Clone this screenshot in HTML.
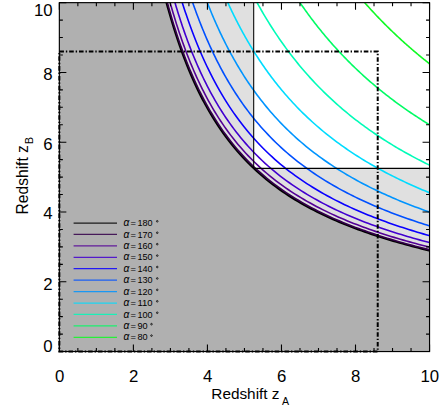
<!DOCTYPE html>
<html><head><meta charset="utf-8"><title>Redshift plot</title>
<style>html,body{margin:0;padding:0;background:#fff;}body{width:443px;height:413px;overflow:hidden;font-family:"Liberation Sans",sans-serif;}</style></head>
<body>
<svg width="443" height="413" viewBox="0 0 443 413" style="display:block">
<defs><clipPath id="cp"><rect x="59.35" y="2.65" width="370.2" height="348.90000000000003"/></clipPath></defs>
<rect x="0" y="0" width="443" height="413" fill="#fff"/>
<rect x="59.35" y="2.65" width="370.2" height="348.90000000000003" fill="#e0e0e0"/>
<path d="M163.71 -7.82 L164.48 -4.83 L165.26 -1.85 L166.06 1.14 L166.86 4.13 L167.68 7.11 L168.52 10.10 L169.36 13.08 L170.23 16.07 L171.11 19.05 L172.00 22.04 L172.91 25.03 L173.83 28.01 L174.78 31.00 L175.74 33.98 L176.72 36.97 L177.71 39.95 L178.73 42.94 L179.76 45.93 L180.82 48.91 L181.90 51.90 L183.00 54.88 L184.12 57.87 L185.27 60.85 L186.44 63.84 L187.63 66.83 L188.85 69.81 L190.10 72.80 L191.38 75.78 L192.68 78.77 L194.02 81.75 L195.38 84.74 L196.78 87.73 L198.21 90.71 L199.68 93.70 L201.18 96.68 L202.72 99.67 L204.30 102.65 L205.93 105.64 L207.59 108.63 L209.30 111.61 L211.06 114.60 L212.86 117.58 L214.72 120.57 L216.63 123.55 L218.59 126.54 L220.61 129.52 L222.70 132.51 L224.84 135.50 L227.06 138.48 L229.34 141.47 L231.70 144.45 L234.14 147.44 L236.66 150.42 L239.26 153.41 L241.96 156.40 L244.75 159.38 L247.64 162.37 L250.64 165.35 L253.75 168.34 L256.91 171.27 L260.08 174.09 L263.25 176.82 L266.42 179.45 L269.59 181.99 L272.75 184.44 L275.92 186.82 L279.09 189.11 L282.26 191.34 L285.43 193.49 L288.59 195.58 L291.76 197.60 L294.93 199.57 L298.10 201.47 L301.27 203.32 L304.43 205.12 L307.60 206.87 L310.77 208.57 L313.94 210.23 L317.11 211.84 L320.27 213.41 L323.44 214.94 L326.61 216.43 L329.78 217.88 L332.95 219.30 L336.11 220.68 L339.28 222.03 L342.45 223.35 L345.62 224.63 L348.78 225.89 L351.95 227.12 L355.12 228.32 L358.29 229.50 L361.46 230.65 L364.62 231.78 L367.79 232.88 L370.96 233.96 L374.13 235.02 L377.30 236.05 L380.46 237.07 L383.63 238.06 L386.80 239.04 L389.97 240.00 L393.14 240.94 L396.30 241.86 L399.47 242.76 L402.64 243.65 L405.81 244.53 L408.98 245.38 L412.14 246.22 L415.31 247.05 L418.48 247.87 L421.65 248.66 L424.82 249.45 L427.98 250.22 L431.15 250.98 L434.32 251.73 L437.49 252.47 L440.66 253.19 L503.59 386.44 L22.33 386.44 L22.33 -67.13 Z" fill="#b0b0b0" clip-path="url(#cp)"/>
<rect x="253.70" y="2.65" width="175.85" height="165.73" fill="#fff"/>
<g clip-path="url(#cp)" fill="none" stroke-linejoin="round">
<path d="M163.71 -7.82 L164.48 -4.83 L165.26 -1.85 L166.06 1.14 L166.86 4.13 L167.68 7.11 L168.52 10.10 L169.36 13.08 L170.23 16.07 L171.11 19.05 L172.00 22.04 L172.91 25.03 L173.83 28.01 L174.78 31.00 L175.74 33.98 L176.72 36.97 L177.71 39.95 L178.73 42.94 L179.76 45.93 L180.82 48.91 L181.90 51.90 L183.00 54.88 L184.12 57.87 L185.27 60.85 L186.44 63.84 L187.63 66.83 L188.85 69.81 L190.10 72.80 L191.38 75.78 L192.68 78.77 L194.02 81.75 L195.38 84.74 L196.78 87.73 L198.21 90.71 L199.68 93.70 L201.18 96.68 L202.72 99.67 L204.30 102.65 L205.93 105.64 L207.59 108.63 L209.30 111.61 L211.06 114.60 L212.86 117.58 L214.72 120.57 L216.63 123.55 L218.59 126.54 L220.61 129.52 L222.70 132.51 L224.84 135.50 L227.06 138.48 L229.34 141.47 L231.70 144.45 L234.14 147.44 L236.66 150.42 L239.26 153.41 L241.96 156.40 L244.75 159.38 L247.64 162.37 L250.64 165.35 L253.75 168.34 L256.91 171.27 L260.08 174.09 L263.25 176.82 L266.42 179.45 L269.59 181.99 L272.75 184.44 L275.92 186.82 L279.09 189.11 L282.26 191.34 L285.43 193.49 L288.59 195.58 L291.76 197.60 L294.93 199.57 L298.10 201.47 L301.27 203.32 L304.43 205.12 L307.60 206.87 L310.77 208.57 L313.94 210.23 L317.11 211.84 L320.27 213.41 L323.44 214.94 L326.61 216.43 L329.78 217.88 L332.95 219.30 L336.11 220.68 L339.28 222.03 L342.45 223.35 L345.62 224.63 L348.78 225.89 L351.95 227.12 L355.12 228.32 L358.29 229.50 L361.46 230.65 L364.62 231.78 L367.79 232.88 L370.96 233.96 L374.13 235.02 L377.30 236.05 L380.46 237.07 L383.63 238.06 L386.80 239.04 L389.97 240.00 L393.14 240.94 L396.30 241.86 L399.47 242.76 L402.64 243.65 L405.81 244.53 L408.98 245.38 L412.14 246.22 L415.31 247.05 L418.48 247.87 L421.65 248.66 L424.82 249.45 L427.98 250.22 L431.15 250.98 L434.32 251.73 L437.49 252.47 L440.66 253.19 " stroke="#000000" stroke-width="2.0"/>
<path d="M164.59 -7.82 L165.36 -4.85 L166.14 -1.87 L166.94 1.10 L167.75 4.07 L168.57 7.04 L169.41 10.01 L170.26 12.98 L171.13 15.95 L172.01 18.93 L172.91 21.90 L173.82 24.87 L174.75 27.84 L175.70 30.81 L176.66 33.78 L177.64 36.75 L178.64 39.72 L179.66 42.70 L180.70 45.67 L181.76 48.64 L182.84 51.61 L183.95 54.58 L185.07 57.55 L186.22 60.52 L187.39 63.50 L188.59 66.47 L189.82 69.44 L191.07 72.41 L192.35 75.38 L193.65 78.35 L194.99 81.32 L196.36 84.30 L197.76 87.27 L199.19 90.24 L200.66 93.21 L202.17 96.18 L203.71 99.15 L205.29 102.12 L206.92 105.10 L208.58 108.07 L210.29 111.04 L212.05 114.01 L213.86 116.98 L215.71 119.95 L217.62 122.92 L219.58 125.89 L221.60 128.87 L223.68 131.84 L225.83 134.81 L228.04 137.78 L230.32 140.75 L232.68 143.72 L235.11 146.69 L237.62 149.67 L240.22 152.64 L242.90 155.61 L245.68 158.58 L248.56 161.55 L251.55 164.52 L254.64 167.49 L257.80 170.41 L260.95 173.22 L264.10 175.94 L267.25 178.56 L270.41 181.09 L273.56 183.54 L276.71 185.90 L279.86 188.20 L283.02 190.41 L286.17 192.56 L289.32 194.65 L292.48 196.67 L295.63 198.63 L298.78 200.54 L301.93 202.39 L305.09 204.19 L308.24 205.93 L311.39 207.64 L314.55 209.29 L317.70 210.90 L320.85 212.47 L324.00 214.00 L327.16 215.49 L330.31 216.95 L333.46 218.37 L336.61 219.75 L339.77 221.10 L342.92 222.42 L346.07 223.71 L349.23 224.97 L352.38 226.21 L355.53 227.41 L358.68 228.59 L361.84 229.74 L364.99 230.87 L368.14 231.98 L371.30 233.06 L374.45 234.12 L377.60 235.16 L380.75 236.18 L383.91 237.18 L387.06 238.16 L390.21 239.12 L393.36 240.06 L396.52 240.99 L399.67 241.90 L402.82 242.79 L405.98 243.66 L409.13 244.53 L412.28 245.37 L415.43 246.20 L418.59 247.02 L421.74 247.82 L424.89 248.61 L428.04 249.39 L431.20 250.15 L434.35 250.90 L437.50 251.64 L440.66 252.37 " stroke="#34004a" stroke-width="1.6"/>
<path d="M167.27 -7.82 L168.05 -4.89 L168.85 -1.96 L169.66 0.97 L170.48 3.89 L171.31 6.82 L172.16 9.75 L173.02 12.68 L173.90 15.60 L174.79 18.53 L175.70 21.46 L176.62 24.39 L177.56 27.32 L178.52 30.24 L179.50 33.17 L180.49 36.10 L181.50 39.03 L182.53 41.95 L183.58 44.88 L184.65 47.81 L185.74 50.74 L186.85 53.66 L187.99 56.59 L189.15 59.52 L190.33 62.45 L191.54 65.38 L192.77 68.30 L194.03 71.23 L195.32 74.16 L196.63 77.09 L197.98 80.01 L199.35 82.94 L200.76 85.87 L202.20 88.80 L203.68 91.73 L205.19 94.65 L206.74 97.58 L208.32 100.51 L209.95 103.44 L211.62 106.36 L213.33 109.29 L215.09 112.22 L216.89 115.15 L218.75 118.07 L220.65 121.00 L222.61 123.93 L224.63 126.86 L226.70 129.79 L228.84 132.71 L231.04 135.64 L233.31 138.57 L235.65 141.50 L238.06 144.42 L240.55 147.35 L243.12 150.28 L245.78 153.21 L248.53 156.13 L251.38 159.06 L254.32 161.99 L257.38 164.92 L260.48 167.79 L263.59 170.57 L266.69 173.25 L269.80 175.84 L272.91 178.35 L276.01 180.77 L279.12 183.12 L282.23 185.40 L285.33 187.60 L288.44 189.74 L291.55 191.81 L294.65 193.83 L297.76 195.78 L300.87 197.68 L303.97 199.53 L307.08 201.32 L310.19 203.07 L313.29 204.77 L316.40 206.43 L319.50 208.04 L322.61 209.61 L325.72 211.15 L328.82 212.64 L331.93 214.10 L335.04 215.53 L338.14 216.92 L341.25 218.27 L344.36 219.60 L347.46 220.90 L350.57 222.17 L353.68 223.41 L356.78 224.62 L359.89 225.81 L362.99 226.97 L366.10 228.11 L369.21 229.22 L372.31 230.31 L375.42 231.38 L378.53 232.43 L381.63 233.46 L384.74 234.47 L387.85 235.46 L390.95 236.43 L394.06 237.38 L397.17 238.32 L400.27 239.24 L403.38 240.14 L406.49 241.02 L409.59 241.89 L412.70 242.75 L415.80 243.59 L418.91 244.42 L422.02 245.23 L425.12 246.03 L428.23 246.82 L431.34 247.59 L434.44 248.35 L437.55 249.10 L440.66 249.84 " stroke="#540096" stroke-width="1.6"/>
<path d="M171.97 -7.82 L172.77 -4.96 L173.58 -2.11 L174.41 0.74 L175.25 3.59 L176.10 6.45 L176.97 9.30 L177.85 12.15 L178.74 15.00 L179.65 17.86 L180.58 20.71 L181.52 23.56 L182.48 26.41 L183.45 29.27 L184.44 32.12 L185.45 34.97 L186.48 37.82 L187.53 40.68 L188.59 43.53 L189.68 46.38 L190.79 49.24 L191.92 52.09 L193.07 54.94 L194.24 57.79 L195.44 60.65 L196.66 63.50 L197.91 66.35 L199.18 69.20 L200.48 72.06 L201.81 74.91 L203.17 77.76 L204.56 80.61 L205.97 83.47 L207.42 86.32 L208.91 89.17 L210.43 92.02 L211.98 94.88 L213.57 97.73 L215.20 100.58 L216.88 103.43 L218.59 106.29 L220.35 109.14 L222.15 111.99 L224.00 114.85 L225.90 117.70 L227.85 120.55 L229.85 123.40 L231.91 126.26 L234.03 129.11 L236.21 131.96 L238.45 134.81 L240.77 137.67 L243.15 140.52 L245.60 143.37 L248.13 146.22 L250.74 149.08 L253.44 151.93 L256.22 154.78 L259.10 157.63 L262.08 160.49 L265.10 163.29 L268.13 166.00 L271.16 168.63 L274.18 171.17 L277.21 173.63 L280.24 176.02 L283.26 178.33 L286.29 180.57 L289.32 182.75 L292.35 184.86 L295.37 186.92 L298.40 188.92 L301.43 190.86 L304.45 192.75 L307.48 194.59 L310.51 196.38 L313.53 198.12 L316.56 199.82 L319.59 201.47 L322.61 203.09 L325.64 204.66 L328.67 206.20 L331.69 207.70 L334.72 209.17 L337.75 210.60 L340.77 212.00 L343.80 213.36 L346.83 214.70 L349.85 216.01 L352.88 217.29 L355.91 218.54 L358.93 219.76 L361.96 220.96 L364.99 222.14 L368.01 223.29 L371.04 224.42 L374.07 225.53 L377.09 226.61 L380.12 227.67 L383.15 228.72 L386.17 229.74 L389.20 230.75 L392.23 231.73 L395.25 232.70 L398.28 233.66 L401.31 234.59 L404.33 235.51 L407.36 236.41 L410.39 237.30 L413.42 238.17 L416.44 239.03 L419.47 239.87 L422.50 240.70 L425.52 241.52 L428.55 242.32 L431.58 243.11 L434.60 243.89 L437.63 244.65 L440.66 245.41 " stroke="#4200d0" stroke-width="1.6"/>
<path d="M179.06 -7.82 L179.89 -5.07 L180.73 -2.33 L181.58 0.41 L182.44 3.15 L183.32 5.89 L184.21 8.64 L185.11 11.38 L186.03 14.12 L186.96 16.86 L187.91 19.61 L188.88 22.35 L189.86 25.09 L190.86 27.83 L191.87 30.57 L192.91 33.32 L193.96 36.06 L195.03 38.80 L196.12 41.54 L197.22 44.29 L198.35 47.03 L199.50 49.77 L200.67 52.51 L201.87 55.25 L203.08 58.00 L204.32 60.74 L205.59 63.48 L206.88 66.22 L208.20 68.97 L209.54 71.71 L210.91 74.45 L212.31 77.19 L213.74 79.94 L215.20 82.68 L216.69 85.42 L218.22 88.16 L219.78 90.90 L221.38 93.65 L223.01 96.39 L224.68 99.13 L226.39 101.87 L228.14 104.62 L229.93 107.36 L231.77 110.10 L233.66 112.84 L235.59 115.58 L237.57 118.33 L239.61 121.07 L241.70 123.81 L243.84 126.55 L246.04 129.30 L248.31 132.04 L250.64 134.78 L253.03 137.52 L255.50 140.26 L258.04 143.01 L260.65 145.75 L263.34 148.49 L266.12 151.23 L268.99 153.98 L271.90 156.68 L274.81 159.29 L277.71 161.83 L280.62 164.30 L283.53 166.69 L286.44 169.01 L289.35 171.27 L292.26 173.46 L295.17 175.60 L298.08 177.67 L300.99 179.70 L303.90 181.66 L306.81 183.58 L309.72 185.45 L312.63 187.27 L315.54 189.05 L318.45 190.78 L321.36 192.47 L324.27 194.12 L327.18 195.73 L330.09 197.31 L333.00 198.85 L335.91 200.35 L338.82 201.82 L341.73 203.26 L344.64 204.67 L347.55 206.04 L350.46 207.39 L353.37 208.71 L356.28 210.00 L359.19 211.27 L362.10 212.51 L365.00 213.72 L367.91 214.92 L370.82 216.09 L373.73 217.23 L376.64 218.36 L379.55 219.46 L382.46 220.55 L385.37 221.61 L388.28 222.65 L391.19 223.68 L394.10 224.69 L397.01 225.68 L399.92 226.65 L402.83 227.61 L405.74 228.55 L408.65 229.47 L411.56 230.38 L414.47 231.28 L417.38 232.16 L420.29 233.02 L423.20 233.88 L426.11 234.72 L429.02 235.54 L431.93 236.36 L434.84 237.16 L437.75 237.95 L440.66 238.72 " stroke="#0a00ff" stroke-width="1.6"/>
<path d="M189.18 -7.82 L190.03 -5.23 L190.90 -2.64 L191.78 -0.04 L192.68 2.55 L193.58 5.14 L194.50 7.73 L195.44 10.32 L196.39 12.91 L197.35 15.50 L198.33 18.09 L199.32 20.68 L200.33 23.27 L201.36 25.86 L202.40 28.45 L203.46 31.04 L204.54 33.63 L205.63 36.23 L206.74 38.82 L207.88 41.41 L209.03 44.00 L210.20 46.59 L211.40 49.18 L212.61 51.77 L213.85 54.36 L215.11 56.95 L216.39 59.54 L217.69 62.13 L219.03 64.72 L220.38 67.31 L221.76 69.91 L223.17 72.50 L224.61 75.09 L226.08 77.68 L227.58 80.27 L229.10 82.86 L230.66 85.45 L232.25 88.04 L233.88 90.63 L235.54 93.22 L237.24 95.81 L238.97 98.40 L240.74 100.99 L242.56 103.59 L244.41 106.18 L246.31 108.77 L248.26 111.36 L250.24 113.95 L252.28 116.54 L254.37 119.13 L256.51 121.72 L258.70 124.31 L260.95 126.90 L263.26 129.49 L265.63 132.08 L268.06 134.67 L270.56 137.26 L273.12 139.86 L275.76 142.45 L278.47 145.04 L281.22 147.59 L283.97 150.08 L286.72 152.49 L289.47 154.85 L292.21 157.14 L294.96 159.37 L297.71 161.55 L300.46 163.67 L303.21 165.73 L305.96 167.75 L308.71 169.72 L311.46 171.64 L314.21 173.51 L316.96 175.35 L319.70 177.13 L322.45 178.88 L325.20 180.59 L327.95 182.26 L330.70 183.90 L333.45 185.50 L336.20 187.06 L338.95 188.59 L341.70 190.09 L344.44 191.56 L347.19 193.00 L349.94 194.41 L352.69 195.80 L355.44 197.15 L358.19 198.48 L360.94 199.78 L363.69 201.06 L366.44 202.32 L369.18 203.55 L371.93 204.76 L374.68 205.94 L377.43 207.11 L380.18 208.25 L382.93 209.38 L385.68 210.48 L388.43 211.57 L391.18 212.64 L393.92 213.69 L396.67 214.72 L399.42 215.73 L402.17 216.73 L404.92 217.71 L407.67 218.68 L410.42 219.63 L413.17 220.57 L415.92 221.49 L418.66 222.40 L421.41 223.29 L424.16 224.17 L426.91 225.04 L429.66 225.90 L432.41 226.74 L435.16 227.57 L437.91 228.39 L440.66 229.19 " stroke="#0050ff" stroke-width="1.6"/>
<path d="M203.33 -7.82 L204.22 -5.43 L205.12 -3.04 L206.04 -0.65 L206.96 1.74 L207.90 4.13 L208.86 6.52 L209.82 8.91 L210.80 11.30 L211.80 13.69 L212.80 16.08 L213.83 18.47 L214.87 20.85 L215.92 23.24 L216.99 25.63 L218.07 28.02 L219.17 30.41 L220.29 32.80 L221.43 35.19 L222.58 37.58 L223.76 39.97 L224.95 42.36 L226.16 44.75 L227.39 47.14 L228.64 49.53 L229.91 51.92 L231.20 54.31 L232.51 56.69 L233.85 59.08 L235.21 61.47 L236.59 63.86 L238.00 66.25 L239.44 68.64 L240.89 71.03 L242.38 73.42 L243.89 75.81 L245.43 78.20 L247.01 80.59 L248.61 82.98 L250.24 85.37 L251.90 87.76 L253.59 90.15 L255.32 92.53 L257.09 94.92 L258.89 97.31 L260.72 99.70 L262.60 102.09 L264.51 104.48 L266.47 106.87 L268.46 109.26 L270.50 111.65 L272.59 114.04 L274.72 116.43 L276.90 118.82 L279.13 121.21 L281.41 123.60 L283.74 125.98 L286.13 128.37 L288.58 130.76 L291.08 133.15 L293.62 135.51 L296.15 137.82 L298.69 140.07 L301.22 142.27 L303.76 144.42 L306.29 146.52 L308.83 148.57 L311.36 150.58 L313.90 152.55 L316.43 154.47 L318.97 156.35 L321.50 158.19 L324.04 160.00 L326.57 161.76 L329.11 163.49 L331.64 165.19 L334.18 166.85 L336.71 168.48 L339.25 170.08 L341.78 171.65 L344.32 173.18 L346.85 174.69 L349.39 176.17 L351.92 177.62 L354.46 179.05 L356.99 180.45 L359.53 181.83 L362.07 183.18 L364.60 184.50 L367.14 185.81 L369.67 187.09 L372.21 188.35 L374.74 189.59 L377.28 190.81 L379.81 192.00 L382.35 193.18 L384.88 194.34 L387.42 195.48 L389.95 196.60 L392.49 197.71 L395.02 198.80 L397.56 199.87 L400.09 200.92 L402.63 201.96 L405.16 202.98 L407.70 203.99 L410.23 204.98 L412.77 205.96 L415.30 206.92 L417.84 207.87 L420.37 208.81 L422.91 209.73 L425.44 210.65 L427.98 211.54 L430.52 212.43 L433.05 213.30 L435.59 214.16 L438.12 215.01 L440.66 215.85 " stroke="#0094ff" stroke-width="1.6"/>
<path d="M223.19 -7.82 L224.11 -5.69 L225.04 -3.57 L225.98 -1.44 L226.93 0.68 L227.90 2.81 L228.88 4.93 L229.87 7.06 L230.87 9.18 L231.89 11.31 L232.92 13.43 L233.96 15.56 L235.02 17.69 L236.09 19.81 L237.17 21.94 L238.27 24.06 L239.38 26.19 L240.51 28.31 L241.65 30.44 L242.81 32.56 L243.99 34.69 L245.18 36.81 L246.39 38.94 L247.61 41.06 L248.86 43.19 L250.12 45.31 L251.40 47.44 L252.70 49.56 L254.02 51.69 L255.35 53.81 L256.71 55.94 L258.09 58.06 L259.49 60.19 L260.91 62.31 L262.36 64.44 L263.82 66.56 L265.31 68.69 L266.82 70.81 L268.36 72.94 L269.93 75.06 L271.51 77.19 L273.13 79.32 L274.77 81.44 L276.44 83.57 L278.14 85.69 L279.87 87.82 L281.62 89.94 L283.41 92.07 L285.23 94.19 L287.09 96.32 L288.97 98.44 L290.89 100.57 L292.85 102.69 L294.84 104.82 L296.87 106.94 L298.94 109.07 L301.05 111.19 L303.19 113.32 L305.38 115.44 L307.62 117.57 L309.87 119.67 L312.13 121.74 L314.38 123.76 L316.64 125.75 L318.89 127.70 L321.15 129.61 L323.40 131.49 L325.66 133.33 L327.91 135.14 L330.17 136.92 L332.42 138.66 L334.67 140.38 L336.93 142.06 L339.18 143.72 L341.44 145.35 L343.69 146.95 L345.95 148.52 L348.20 150.07 L350.46 151.59 L352.71 153.09 L354.97 154.56 L357.22 156.01 L359.48 157.44 L361.73 158.84 L363.99 160.22 L366.24 161.59 L368.50 162.93 L370.75 164.24 L373.01 165.54 L375.26 166.82 L377.52 168.08 L379.77 169.33 L382.03 170.55 L384.28 171.76 L386.54 172.95 L388.79 174.12 L391.05 175.27 L393.30 176.41 L395.56 177.54 L397.81 178.64 L400.07 179.74 L402.32 180.81 L404.58 181.88 L406.83 182.93 L409.09 183.96 L411.34 184.98 L413.60 185.99 L415.85 186.99 L418.11 187.97 L420.36 188.94 L422.62 189.90 L424.87 190.84 L427.13 191.77 L429.38 192.70 L431.64 193.61 L433.89 194.51 L436.15 195.40 L438.40 196.27 L440.66 197.14 " stroke="#00dcff" stroke-width="1.6"/>
<path d="M251.51 -7.82 L252.43 -6.04 L253.37 -4.26 L254.31 -2.48 L255.27 -0.70 L256.24 1.08 L257.21 2.86 L258.20 4.64 L259.19 6.42 L260.20 8.20 L261.22 9.98 L262.25 11.76 L263.29 13.54 L264.34 15.32 L265.40 17.10 L266.47 18.88 L267.56 20.66 L268.66 22.44 L269.77 24.22 L270.89 26.00 L272.02 27.78 L273.17 29.55 L274.33 31.33 L275.51 33.11 L276.69 34.89 L277.90 36.67 L279.11 38.45 L280.34 40.23 L281.59 42.01 L282.85 43.79 L284.12 45.57 L285.41 47.35 L286.72 49.13 L288.04 50.91 L289.38 52.69 L290.74 54.47 L292.11 56.25 L293.50 58.03 L294.91 59.81 L296.33 61.59 L297.78 63.37 L299.24 65.15 L300.72 66.93 L302.22 68.71 L303.74 70.49 L305.29 72.27 L306.85 74.05 L308.43 75.82 L310.04 77.60 L311.66 79.38 L313.31 81.16 L314.98 82.94 L316.68 84.72 L318.40 86.50 L320.14 88.28 L321.91 90.06 L323.71 91.84 L325.53 93.62 L327.37 95.40 L329.25 97.18 L331.14 98.95 L333.03 100.69 L334.91 102.40 L336.80 104.09 L338.69 105.76 L340.58 107.41 L342.47 109.03 L344.35 110.62 L346.24 112.20 L348.13 113.75 L350.02 115.29 L351.91 116.80 L353.80 118.29 L355.68 119.76 L357.57 121.22 L359.46 122.65 L361.35 124.07 L363.24 125.46 L365.13 126.84 L367.01 128.20 L368.90 129.55 L370.79 130.87 L372.68 132.18 L374.57 133.48 L376.46 134.75 L378.34 136.02 L380.23 137.26 L382.12 138.49 L384.01 139.71 L385.90 140.91 L387.78 142.10 L389.67 143.27 L391.56 144.43 L393.45 145.58 L395.34 146.71 L397.23 147.83 L399.11 148.94 L401.00 150.03 L402.89 151.11 L404.78 152.18 L406.67 153.24 L408.56 154.29 L410.44 155.32 L412.33 156.34 L414.22 157.36 L416.11 158.36 L418.00 159.35 L419.89 160.33 L421.77 161.30 L423.66 162.26 L425.55 163.20 L427.44 164.14 L429.33 165.07 L431.21 165.99 L433.10 166.90 L434.99 167.80 L436.88 168.69 L438.77 169.58 L440.66 170.45 " stroke="#00fcb8" stroke-width="1.6"/>
<path d="M292.99 -7.82 L293.85 -6.49 L294.72 -5.17 L295.59 -3.84 L296.47 -2.52 L297.36 -1.19 L298.25 0.13 L299.15 1.46 L300.06 2.78 L300.97 4.11 L301.89 5.43 L302.82 6.76 L303.75 8.08 L304.69 9.41 L305.64 10.73 L306.60 12.06 L307.56 13.38 L308.53 14.71 L309.51 16.03 L310.50 17.36 L311.49 18.68 L312.50 20.01 L313.51 21.33 L314.53 22.66 L315.56 23.98 L316.59 25.31 L317.64 26.63 L318.69 27.96 L319.75 29.28 L320.82 30.61 L321.90 31.93 L322.99 33.26 L324.09 34.58 L325.20 35.91 L326.32 37.23 L327.44 38.56 L328.58 39.88 L329.73 41.21 L330.88 42.53 L332.05 43.86 L333.22 45.18 L334.41 46.51 L335.61 47.83 L336.82 49.16 L338.03 50.48 L339.26 51.81 L340.50 53.13 L341.76 54.46 L343.02 55.78 L344.29 57.11 L345.58 58.43 L346.88 59.76 L348.19 61.08 L349.51 62.41 L350.85 63.73 L352.19 65.06 L353.55 66.38 L354.93 67.71 L356.31 69.03 L357.71 70.36 L359.12 71.67 L360.52 72.98 L361.93 74.27 L363.33 75.56 L364.74 76.83 L366.15 78.08 L367.55 79.33 L368.96 80.56 L370.36 81.79 L371.77 83.00 L373.18 84.20 L374.58 85.39 L375.99 86.57 L377.39 87.74 L378.80 88.90 L380.20 90.05 L381.61 91.19 L383.02 92.32 L384.42 93.43 L385.83 94.54 L387.23 95.64 L388.64 96.73 L390.05 97.81 L391.45 98.88 L392.86 99.94 L394.26 101.00 L395.67 102.04 L397.07 103.08 L398.48 104.10 L399.89 105.12 L401.29 106.13 L402.70 107.13 L404.10 108.12 L405.51 109.11 L406.92 110.08 L408.32 111.05 L409.73 112.01 L411.13 112.97 L412.54 113.91 L413.94 114.85 L415.35 115.78 L416.76 116.70 L418.16 117.62 L419.57 118.53 L420.97 119.43 L422.38 120.32 L423.79 121.21 L425.19 122.09 L426.60 122.97 L428.00 123.83 L429.41 124.69 L430.82 125.55 L432.22 126.40 L433.63 127.24 L435.03 128.07 L436.44 128.90 L437.84 129.72 L439.25 130.54 L440.66 131.35 " stroke="#00fc64" stroke-width="1.6"/>
<path d="M355.72 -7.82 L356.32 -7.10 L356.92 -6.38 L357.53 -5.66 L358.14 -4.94 L358.74 -4.22 L359.36 -3.50 L359.97 -2.78 L360.59 -2.06 L361.21 -1.34 L361.83 -0.62 L362.45 0.10 L363.08 0.82 L363.71 1.54 L364.34 2.26 L364.97 2.98 L365.61 3.70 L366.25 4.42 L366.89 5.13 L367.53 5.85 L368.18 6.57 L368.83 7.29 L369.48 8.01 L370.14 8.73 L370.79 9.45 L371.45 10.17 L372.12 10.89 L372.78 11.61 L373.45 12.33 L374.12 13.05 L374.79 13.77 L375.47 14.49 L376.15 15.21 L376.83 15.93 L377.52 16.65 L378.20 17.37 L378.89 18.09 L379.59 18.81 L380.28 19.53 L380.98 20.25 L381.68 20.96 L382.39 21.68 L383.10 22.40 L383.81 23.12 L384.52 23.84 L385.24 24.56 L385.96 25.28 L386.68 26.00 L387.41 26.72 L388.14 27.44 L388.87 28.16 L389.61 28.88 L390.35 29.60 L391.09 30.32 L391.84 31.04 L392.58 31.76 L393.34 32.48 L394.09 33.20 L394.85 33.92 L395.61 34.64 L396.37 35.35 L397.14 36.07 L397.90 36.78 L398.66 37.49 L399.43 38.19 L400.19 38.90 L400.96 39.60 L401.72 40.29 L402.48 40.99 L403.25 41.68 L404.01 42.36 L404.77 43.05 L405.54 43.73 L406.30 44.41 L407.06 45.09 L407.83 45.76 L408.59 46.43 L409.35 47.10 L410.12 47.76 L410.88 48.42 L411.64 49.08 L412.41 49.74 L413.17 50.39 L413.93 51.04 L414.70 51.69 L415.46 52.34 L416.22 52.98 L416.99 53.62 L417.75 54.26 L418.52 54.89 L419.28 55.52 L420.04 56.15 L420.81 56.78 L421.57 57.40 L422.33 58.03 L423.10 58.65 L423.86 59.26 L424.62 59.88 L425.39 60.49 L426.15 61.10 L426.91 61.71 L427.68 62.31 L428.44 62.91 L429.20 63.51 L429.97 64.11 L430.73 64.71 L431.49 65.30 L432.26 65.89 L433.02 66.48 L433.78 67.06 L434.55 67.65 L435.31 68.23 L436.08 68.81 L436.84 69.38 L437.60 69.96 L438.37 70.53 L439.13 71.10 L439.89 71.67 L440.66 72.23 " stroke="#10fa24" stroke-width="1.6"/>
</g>
<path d="M253.70 2.65 V168.38 H429.55" fill="none" stroke="#000" stroke-width="1.05"/>
<path d="M59.35 51.50 H377.72 V351.55 H59.35 Z" fill="none" stroke="#000" stroke-width="2.0" stroke-dasharray="4.6 1.9 1.4 1.92"/>
<rect x="59.35" y="2.65" width="370.2" height="348.90000000000003" fill="none" stroke="#000" stroke-width="1.15"/>
<path d="M59.35 351.55 v-7 M59.35 2.65 v7 M59.35 351.55 h7 M429.55 351.55 h-7 M77.86 351.55 v-3.5 M77.86 2.65 v3.5 M59.35 334.11 h3.5 M429.55 334.11 h-3.5 M96.37 351.55 v-3.5 M96.37 2.65 v3.5 M59.35 316.66 h3.5 M429.55 316.66 h-3.5 M114.88 351.55 v-3.5 M114.88 2.65 v3.5 M59.35 299.22 h3.5 M429.55 299.22 h-3.5 M133.39 351.55 v-7 M133.39 2.65 v7 M59.35 281.77 h7 M429.55 281.77 h-7 M151.90 351.55 v-3.5 M151.90 2.65 v3.5 M59.35 264.33 h3.5 M429.55 264.33 h-3.5 M170.41 351.55 v-3.5 M170.41 2.65 v3.5 M59.35 246.88 h3.5 M429.55 246.88 h-3.5 M188.92 351.55 v-3.5 M188.92 2.65 v3.5 M59.35 229.44 h3.5 M429.55 229.44 h-3.5 M207.43 351.55 v-7 M207.43 2.65 v7 M59.35 211.99 h7 M429.55 211.99 h-7 M225.94 351.55 v-3.5 M225.94 2.65 v3.5 M59.35 194.55 h3.5 M429.55 194.55 h-3.5 M244.45 351.55 v-3.5 M244.45 2.65 v3.5 M59.35 177.10 h3.5 M429.55 177.10 h-3.5 M262.96 351.55 v-3.5 M262.96 2.65 v3.5 M59.35 159.66 h3.5 M429.55 159.66 h-3.5 M281.47 351.55 v-7 M281.47 2.65 v7 M59.35 142.21 h7 M429.55 142.21 h-7 M299.98 351.55 v-3.5 M299.98 2.65 v3.5 M59.35 124.77 h3.5 M429.55 124.77 h-3.5 M318.49 351.55 v-3.5 M318.49 2.65 v3.5 M59.35 107.32 h3.5 M429.55 107.32 h-3.5 M337.00 351.55 v-3.5 M337.00 2.65 v3.5 M59.35 89.88 h3.5 M429.55 89.88 h-3.5 M355.51 351.55 v-7 M355.51 2.65 v7 M59.35 72.43 h7 M429.55 72.43 h-7 M374.02 351.55 v-3.5 M374.02 2.65 v3.5 M59.35 54.99 h3.5 M429.55 54.99 h-3.5 M392.53 351.55 v-3.5 M392.53 2.65 v3.5 M59.35 37.54 h3.5 M429.55 37.54 h-3.5 M411.04 351.55 v-3.5 M411.04 2.65 v3.5 M59.35 20.10 h3.5 M429.55 20.10 h-3.5 M429.55 351.55 v-7 M429.55 2.65 v7 M59.35 2.65 h7 M429.55 2.65 h-7" stroke="#000" stroke-width="1.1" fill="none"/>
<g font-family="Liberation Sans, sans-serif" font-size="16.8" fill="#000">
<text x="59.55" y="382.0" text-anchor="middle">0</text>
<text x="52.6" y="351.70" text-anchor="end">0</text>
<text x="133.59" y="382.0" text-anchor="middle">2</text>
<text x="52.6" y="289.50" text-anchor="end">2</text>
<text x="207.63" y="382.0" text-anchor="middle">4</text>
<text x="52.6" y="219.40" text-anchor="end">4</text>
<text x="281.67" y="382.0" text-anchor="middle">6</text>
<text x="52.6" y="149.70" text-anchor="end">6</text>
<text x="355.71" y="382.0" text-anchor="middle">8</text>
<text x="52.6" y="79.90" text-anchor="end">8</text>
<text x="429.75" y="382.0" text-anchor="middle">10</text>
<text x="52.6" y="16.10" text-anchor="end">10</text>
</g>
<g font-family="Liberation Sans, sans-serif" font-size="15" fill="#000">
<text x="211.3" y="399.3" font-size="15.35">Redshift z<tspan font-size="10.6" dy="5.2" dx="2.5">A</tspan></text>
<text transform="translate(27.6,214.4) rotate(-90) scale(1,1.08)" font-size="15.6">Redshift z<tspan font-size="10.4" dy="4.8" dx="1.2">B</tspan></text>
</g>
<g font-family="Liberation Sans, sans-serif" font-size="9.4" fill="#000">
<path d="M73.6 223.00 H117" stroke="#000000" stroke-width="1.25" stroke-opacity="0.85"/>
<text y="226.10"><tspan x="123.6" font-style="italic" font-size="10.2">α</tspan><tspan x="130.4">=</tspan><tspan x="137.5" textLength="15.15" lengthAdjust="spacingAndGlyphs">180</tspan></text>
<circle cx="157.25" cy="221.30" r="0.8" fill="none" stroke="#000" stroke-width="0.8"/>
<path d="M73.6 234.43 H117" stroke="#34004a" stroke-width="1.25" stroke-opacity="0.85"/>
<text y="237.53"><tspan x="123.6" font-style="italic" font-size="10.2">α</tspan><tspan x="130.4">=</tspan><tspan x="137.5" textLength="15.15" lengthAdjust="spacingAndGlyphs">170</tspan></text>
<circle cx="157.25" cy="232.73" r="0.8" fill="none" stroke="#000" stroke-width="0.8"/>
<path d="M73.6 245.86 H117" stroke="#540096" stroke-width="1.25" stroke-opacity="0.85"/>
<text y="248.96"><tspan x="123.6" font-style="italic" font-size="10.2">α</tspan><tspan x="130.4">=</tspan><tspan x="137.5" textLength="15.15" lengthAdjust="spacingAndGlyphs">160</tspan></text>
<circle cx="157.25" cy="244.16" r="0.8" fill="none" stroke="#000" stroke-width="0.8"/>
<path d="M73.6 257.29 H117" stroke="#4200d0" stroke-width="1.25" stroke-opacity="0.85"/>
<text y="260.39"><tspan x="123.6" font-style="italic" font-size="10.2">α</tspan><tspan x="130.4">=</tspan><tspan x="137.5" textLength="15.15" lengthAdjust="spacingAndGlyphs">150</tspan></text>
<circle cx="157.25" cy="255.59" r="0.8" fill="none" stroke="#000" stroke-width="0.8"/>
<path d="M73.6 268.72 H117" stroke="#0a00ff" stroke-width="1.25" stroke-opacity="0.85"/>
<text y="271.82"><tspan x="123.6" font-style="italic" font-size="10.2">α</tspan><tspan x="130.4">=</tspan><tspan x="137.5" textLength="15.15" lengthAdjust="spacingAndGlyphs">140</tspan></text>
<circle cx="157.25" cy="267.02" r="0.8" fill="none" stroke="#000" stroke-width="0.8"/>
<path d="M73.6 280.15 H117" stroke="#0050ff" stroke-width="1.25" stroke-opacity="0.85"/>
<text y="283.25"><tspan x="123.6" font-style="italic" font-size="10.2">α</tspan><tspan x="130.4">=</tspan><tspan x="137.5" textLength="15.15" lengthAdjust="spacingAndGlyphs">130</tspan></text>
<circle cx="157.25" cy="278.45" r="0.8" fill="none" stroke="#000" stroke-width="0.8"/>
<path d="M73.6 291.58 H117" stroke="#0094ff" stroke-width="1.25" stroke-opacity="0.85"/>
<text y="294.68"><tspan x="123.6" font-style="italic" font-size="10.2">α</tspan><tspan x="130.4">=</tspan><tspan x="137.5" textLength="15.15" lengthAdjust="spacingAndGlyphs">120</tspan></text>
<circle cx="157.25" cy="289.88" r="0.8" fill="none" stroke="#000" stroke-width="0.8"/>
<path d="M73.6 303.01 H117" stroke="#00dcff" stroke-width="1.25" stroke-opacity="0.85"/>
<text y="306.11"><tspan x="123.6" font-style="italic" font-size="10.2">α</tspan><tspan x="130.4">=</tspan><tspan x="137.5" textLength="15.15" lengthAdjust="spacingAndGlyphs">110</tspan></text>
<circle cx="157.25" cy="301.31" r="0.8" fill="none" stroke="#000" stroke-width="0.8"/>
<path d="M73.6 314.44 H117" stroke="#00fcb8" stroke-width="1.25" stroke-opacity="0.85"/>
<text y="317.54"><tspan x="123.6" font-style="italic" font-size="10.2">α</tspan><tspan x="130.4">=</tspan><tspan x="137.5" textLength="15.15" lengthAdjust="spacingAndGlyphs">100</tspan></text>
<circle cx="157.25" cy="312.74" r="0.8" fill="none" stroke="#000" stroke-width="0.8"/>
<path d="M73.6 325.87 H117" stroke="#00fc64" stroke-width="1.25" stroke-opacity="0.85"/>
<text y="328.97"><tspan x="123.6" font-style="italic" font-size="10.2">α</tspan><tspan x="130.4">=</tspan><tspan x="137.5" textLength="10.20" lengthAdjust="spacingAndGlyphs">90</tspan></text>
<circle cx="151.50" cy="324.17" r="0.8" fill="none" stroke="#000" stroke-width="0.8"/>
<path d="M73.6 337.30 H117" stroke="#10fa24" stroke-width="1.25" stroke-opacity="0.85"/>
<text y="340.40"><tspan x="123.6" font-style="italic" font-size="10.2">α</tspan><tspan x="130.4">=</tspan><tspan x="137.5" textLength="10.20" lengthAdjust="spacingAndGlyphs">80</tspan></text>
<circle cx="151.50" cy="335.60" r="0.8" fill="none" stroke="#000" stroke-width="0.8"/>
</g>
</svg>
</body></html>
